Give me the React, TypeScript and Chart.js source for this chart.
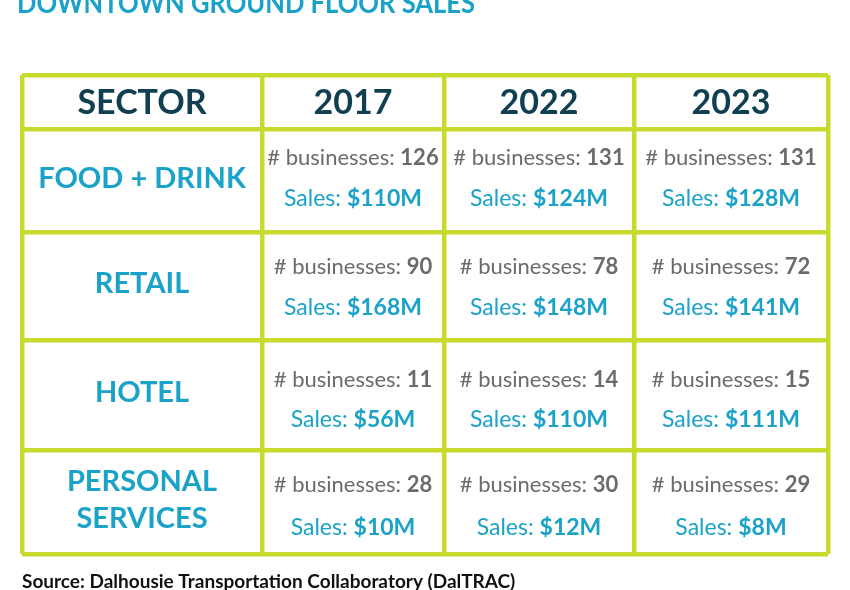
import React, { useEffect, useRef } from "react";
import { Chart, registerables } from "chart.js";

Chart.register(...registerables);

const titleText = "DOWNTOWN GROUND FLOOR SALES";
const sourceText = "Source: Dalhousie Transportation Collaboratory (DalTRAC)";
const headerLabels = ["SECTOR", "2017", "2022", "2023"];
const sectors = ["FOOD + DRINK", "RETAIL", "HOTEL", "PERSONAL\nSERVICES"];
const years = ["2017", "2022", "2023"];
const businesses2017 = [126, 90, 11, 28];
const businesses2022 = [131, 78, 14, 30];
const businesses2023 = [131, 72, 15, 29];
const sales2017 = [110, 168, 56, 10];
const sales2022 = [124, 148, 110, 12];
const sales2023 = [128, 141, 111, 8];

const businessesByYear = [businesses2017, businesses2022, businesses2023];
const salesByYear = [sales2017, sales2022, sales2023];

// layout (scale units)
const colEdges = [0, 240, 422, 612, 806];
const rowEdges = [0, 54, 157, 265, 375, 479];
// text line offsets from row centre (px)
const bizOffsets = [-23, -19, -15, -17];
const salesOffsets = [18, 22, 25, 26];

const LIME = "#c8db2d";
const DARK = "#0f3f50";
const CYAN = "#1aa2c8";
const GRAY = "#6b6b6b";
const FONT = "Lato, 'Open Sans', sans-serif";

function drawMixed(ctx: CanvasRenderingContext2D, cx: number, y: number, parts: [string, string, string][]) {
  let total = 0;
  const widths: number[] = [];
  for (const [text, font] of parts) {
    ctx.font = font;
    const w = ctx.measureText(text).width;
    widths.push(w);
    total += w;
  }
  let x = cx - total / 2;
  ctx.textAlign = "left";
  parts.forEach(([text, font, color], i) => {
    ctx.font = font;
    ctx.fillStyle = color;
    ctx.fillText(text, x, y);
    x += widths[i];
  });
}

const tablePlugin = {
  id: "tableText",
  afterDraw(chart: any) {
    const ctx: CanvasRenderingContext2D = chart.ctx;
    const xs = chart.scales.x;
    const ys = chart.scales.y;
    const cxOf = (c: number) => (xs.getPixelForValue(colEdges[c]) + xs.getPixelForValue(colEdges[c + 1])) / 2;
    const cyOf = (r: number) => (ys.getPixelForValue(rowEdges[r]) + ys.getPixelForValue(rowEdges[r + 1])) / 2;
    ctx.save();
    // title (partly cut at top)
    ctx.font = `bold 29px ${FONT}`;
    ctx.fillStyle = CYAN;
    ctx.textAlign = "left";
    ctx.textBaseline = "alphabetic";
    ctx.fillText(titleText, 17, 13, 458);
    // source
    ctx.font = `bold 19px ${FONT}`;
    ctx.fillStyle = "#111111";
    ctx.fillText(sourceText, 22, 588, 502);
    ctx.textBaseline = "middle";
    ctx.textAlign = "center";
    // header
    headerLabels.forEach((h, c) => {
      ctx.font = `bold 34px ${FONT}`;
      ctx.fillStyle = DARK;
      ctx.fillText(h, cxOf(c), cyOf(0) + 1);
    });
    // sectors
    sectors.forEach((s, r) => {
      const lines = s.split("\n");
      ctx.font = `bold 29px ${FONT}`;
      ctx.fillStyle = CYAN;
      const cy = cyOf(r + 1) - 2;
      const lh = 37;
      lines.forEach((ln, i) => {
        ctx.fillText(ln, cxOf(0), cy + (i - (lines.length - 1) / 2) * lh);
      });
    });
    // values
    years.forEach((_, yi) => {
      sectors.forEach((_, r) => {
        const cx = cxOf(yi + 1);
        const cy = cyOf(r + 1);
        drawMixed(ctx, cx, cy + bizOffsets[r], [
          ["# businesses: ", `22px ${FONT}`, GRAY],
          [String(businessesByYear[yi][r]), `bold 22px ${FONT}`, GRAY],
        ]);
        drawMixed(ctx, cx, cy + salesOffsets[r], [
          ["Sales: ", `23px ${FONT}`, CYAN],
          ["$" + salesByYear[yi][r] + "M", `bold 23px ${FONT}`, CYAN],
        ]);
      });
    });
    ctx.restore();
  },
};

export default function App() {
  const ref = useRef<HTMLCanvasElement>(null);
  useEffect(() => {
    document.body.style.margin = "0";
    const chart = new Chart(ref.current!, {
      type: "scatter",
      data: { datasets: [{ data: [], pointRadius: 0 }] },
      options: {
        animation: false,
        responsive: false,
        devicePixelRatio: 1,
        layout: { padding: { left: 22, right: 22, top: 75, bottom: 36 } },
        plugins: { legend: { display: false }, tooltip: { enabled: false }, title: { display: false } },
        scales: {
          x: {
            type: "linear",
            min: colEdges[0],
            max: colEdges[colEdges.length - 1],
            afterBuildTicks: (s: any) => {
              s.ticks = colEdges.map((v) => ({ value: v }));
            },
            ticks: { display: false, padding: 0 },
            grid: { color: LIME, lineWidth: 4.5, drawTicks: false },
            border: { display: false },
          },
          y: {
            type: "linear",
            reverse: true,
            min: rowEdges[0],
            max: rowEdges[rowEdges.length - 1],
            afterBuildTicks: (s: any) => {
              s.ticks = rowEdges.map((v) => ({ value: v }));
            },
            ticks: { display: false, padding: 0 },
            grid: { color: LIME, lineWidth: 4.5, drawTicks: false },
            border: { display: false },
          },
        },
      },
      plugins: [tablePlugin],
    });
    return () => chart.destroy();
  }, []);
  return (
    <div style={{ width: 850, height: 590 }}>
      <canvas ref={ref} width={850} height={590} />
    </div>
  );
}
